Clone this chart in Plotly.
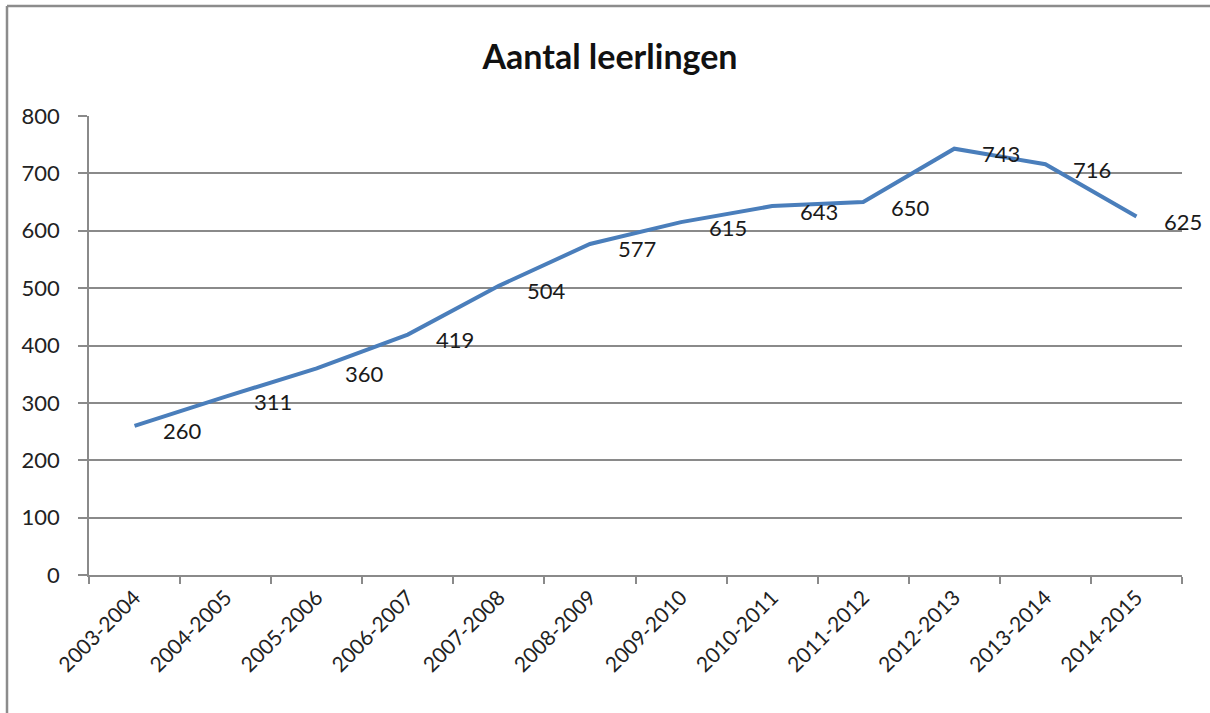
import plotly.graph_objects as go

years = ["2003-2004", "2004-2005", "2005-2006", "2006-2007", "2007-2008", "2008-2009",
         "2009-2010", "2010-2011", "2011-2012", "2012-2013", "2013-2014", "2014-2015"]
leerlingen = [260, 311, 360, 419, 504, 577, 615, 643, 650, 743, 716, 625]
y_ticks = [0, 100, 200, 300, 400, 500, 600, 700, 800]

FONT = "Lato, Open Sans, sans-serif"
GRAY = "#8a8a8a"

W, H = 1210, 713
L, R, T, B = 89, 28, 116, 138
PW, PH = W - L - R, H - T - B

fig = go.Figure()
fig.add_trace(go.Scatter(
    x=years, y=leerlingen, mode="lines",
    line=dict(color="#4a7ebb", width=4),
    hoverinfo="x+y", showlegend=False,
))

annotations = [
    dict(x=c, y=v, xref="x", yref="y", text=str(v), showarrow=False,
         xanchor="left", yanchor="middle", xshift=26, yshift=-5,
         font=dict(family=FONT, size=22, color="#1a1a1a"))
    for c, v in zip(years, leerlingen)
]

bx = (7 - L) / PW
by = 1 + (T - 6) / PH

fig.update_layout(
    width=W, height=H,
    paper_bgcolor="white", plot_bgcolor="white",
    margin=dict(l=L, r=R, t=T, b=B, autoexpand=False),
    title=dict(text="<b>Aantal leerlingen</b>", x=610 / W, xref="container", xanchor="center",
               y=1 - 57 / H, yref="container", yanchor="middle",
               font=dict(family=FONT, size=34, color="#111")),
    font=dict(family=FONT, size=22, color="#222"),
    annotations=annotations,
    shapes=[
        dict(type="line", xref="paper", yref="paper",
             x0=bx, x1=1.2, y0=by, y1=by,
             line=dict(color="#8c8c8c", width=2.5)),
        dict(type="line", xref="paper", yref="paper",
             x0=bx, x1=bx, y0=-0.4, y1=by,
             line=dict(color="#8c8c8c", width=2.5)),
    ],
)

fig.update_xaxes(
    type="category", range=[-0.5, len(years) - 0.5],
    showline=True, linecolor=GRAY, linewidth=1.8,
    ticks="outside", tickson="boundaries", ticklen=7, tickwidth=1.5, tickcolor=GRAY,
    tickangle=-45, showgrid=False, zeroline=False,
    tickfont=dict(family=FONT, size=21, color="#222"),
)
fig.update_yaxes(
    range=[0, 800], tickvals=y_ticks,
    showline=True, linecolor=GRAY, linewidth=1.8,
    ticks="outside", ticklen=9, tickwidth=1.5, tickcolor=GRAY,
    showgrid=True, gridcolor=GRAY, gridwidth=1.5, zeroline=False,
    ticklabelstandoff=14,
    tickfont=dict(family=FONT, size=22, color="#222"),
)

fig.write_html(
    "out.html",
    config={"displayModeBar": False},
    post_script="document.documentElement.style.overflow='hidden';"
                "document.body.style.margin='0';document.body.style.overflow='hidden';",
)
